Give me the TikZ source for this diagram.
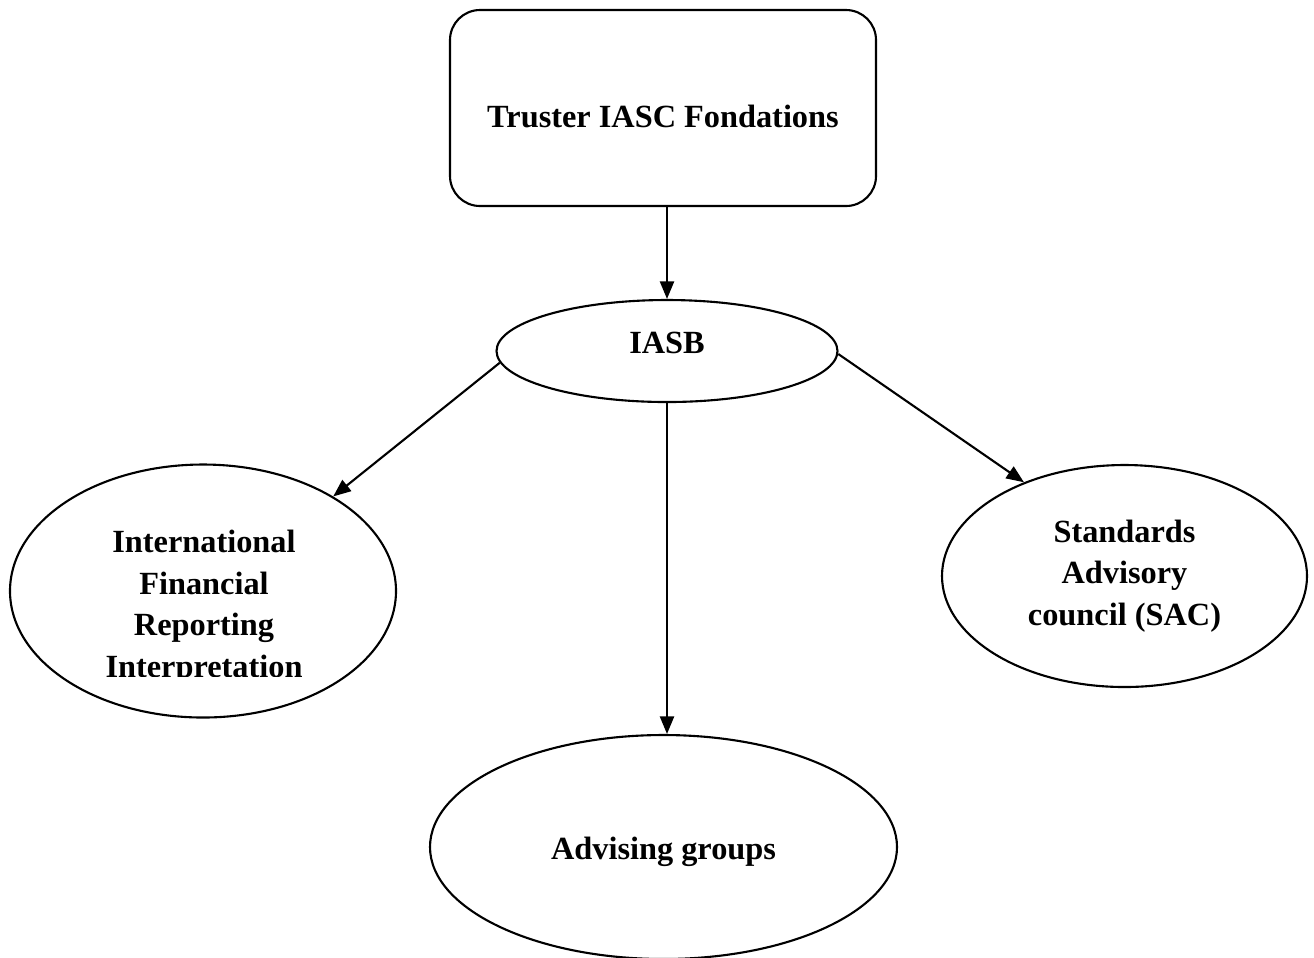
\documentclass[tikz,border=0pt]{standalone}
\usepackage{fontspec}
\setmainfont{Liberation Serif}
\usetikzlibrary{shapes.geometric,arrows.meta}

\begin{document}
\begin{tikzpicture}[line width=0.6pt,font=\bfseries\fontsize{9.2}{11.8}\selectfont]
    \tikzstyle{box}=[draw,rounded corners=0.3cm,minimum width=4.26cm,minimum height=1.96cm,inner sep=0pt]
    \tikzstyle{oval}=[draw,ellipse,inner sep=0pt,align=center]
    \tikzstyle{link}=[-{Triangle[length=5pt,width=4pt]}]

    \useasboundingbox (0,0) rectangle (13.14,-9.57);

    % Draw the top box and the board
    \node[box,text height=0.39cm,text depth=0pt] (trust) at (6.63,-1.08) {Truster IASC Fondations};
    \node[oval,minimum width=3.41cm,minimum height=1.02cm,text depth=0.16cm] (iasb) at (6.67,-3.51) {IASB};

    % Draw the three bodies below
    \node[oval,minimum width=3.86cm,minimum height=2.53cm] (ifri) at (2.03,-5.91) {};
    \begin{scope}
        \clip (0,-4) rectangle (4,-6.76);
        \node[align=center] (ifritext) at (2.04,-6.07) {International\\Financial\\Reporting\\Interpretation};
    \end{scope}
    \node[oval,minimum width=3.65cm,minimum height=2.22cm] (sac) at (11.245,-5.76) {Standards\\Advisory\\council (SAC)};
    \node[oval,minimum width=4.67cm,minimum height=2.24cm,text height=0.32cm] (adv) at (6.635,-8.47) {Advising groups};

    % Connect the nodes
    \draw[link] (iasb.north |- trust.south) -- (iasb.north);
    \draw[link] (iasb.184) -- (ifri.36);
    \draw[link] (iasb.359) -- (sac.137.6);
    \draw[link] (iasb.south) -- (iasb.south |- adv.north);
\end{tikzpicture}
\end{document}
